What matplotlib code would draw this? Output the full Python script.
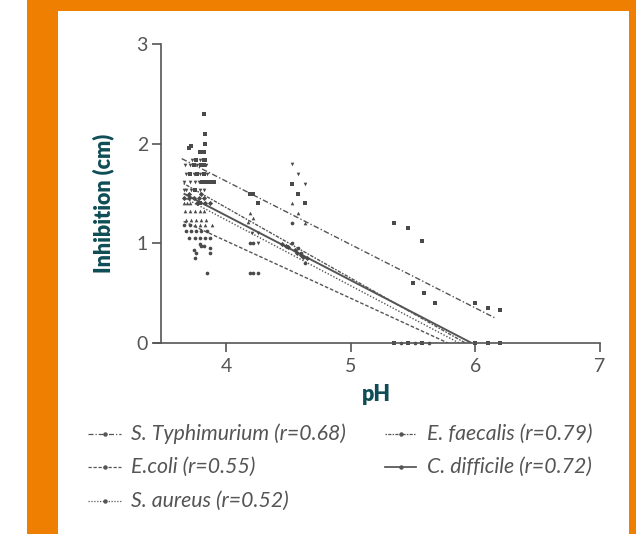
import matplotlib
matplotlib.use('Agg')
import matplotlib.pyplot as plt
from matplotlib.patches import Rectangle
from matplotlib.lines import Line2D

# ---------------- data ----------------
series_names = ["S. Typhimurium (r=0.68)", "E.coli (r=0.55)", "S. aureus (r=0.52)",
                "E. faecalis (r=0.79)", "C. difficile (r=0.72)"]

typh_x = [3.82, 3.83, 3.83, 3.72, 3.70, 3.79, 3.80, 3.82, 3.76, 3.82, 3.83, 3.74, 3.80, 3.82,
          3.71, 3.77, 3.82, 3.81, 3.84, 3.87, 3.90, 3.75, 3.79,
          4.19, 4.22, 4.26, 4.53, 4.58, 4.63, 5.35, 5.46, 5.57, 5.50, 5.59, 5.68, 6.00, 6.10, 6.20,
          5.35, 5.46, 5.57, 6.00, 6.10, 6.20]
typh_y = [2.30, 2.10, 2.00, 1.98, 1.96, 1.92, 1.92, 1.92, 1.835, 1.835, 1.835, 1.785, 1.785, 1.785,
          1.70, 1.70, 1.70, 1.62, 1.62, 1.62, 1.62, 1.535, 1.40,
          1.50, 1.50, 1.40, 1.60, 1.50, 1.40, 1.20, 1.15, 1.02, 0.60, 0.50, 0.40, 0.40, 0.35, 0.33,
          0, 0, 0, 0, 0, 0]

ecoli_x = [3.68, 3.72, 3.76, 3.80, 3.85, 3.70, 3.75, 3.79, 3.83, 3.87, 3.80, 3.82, 3.79, 3.74,
           3.76, 3.87, 3.87, 3.75, 3.85, 3.66, 3.71,
           4.19, 4.22, 4.19, 4.22, 4.26, 4.53, 4.53, 4.58, 4.60, 4.63, 5.40, 5.52, 5.63]
ecoli_y = [1.12, 1.12, 1.12, 1.12, 1.12, 1.05, 1.05, 1.05, 1.05, 1.05, 0.97, 0.97, 0.99, 0.93,
           0.90, 0.95, 0.90, 0.85, 0.70, 1.18, 1.18,
           1.00, 1.00, 0.70, 0.70, 0.70, 1.20, 1.00, 0.95, 0.90, 0.80, 0, 0, 0]

saur_x = [3.66, 3.69, 3.71, 3.67, 3.71, 3.75, 3.68, 3.72, 3.76, 3.75, 3.79, 3.83, 3.89, 3.80,
          3.84, 3.79, 3.82, 4.19, 4.22, 4.18, 4.53, 4.58, 4.63]
saur_y = [1.40, 1.40, 1.40, 1.32, 1.32, 1.32, 1.23, 1.23, 1.23, 1.18, 1.18, 1.18, 1.18, 1.23,
          1.23, 1.32, 1.32, 1.30, 1.25, 1.21, 1.40, 1.30, 1.20]

efae_x = [3.67, 3.71, 3.77, 3.84, 3.73, 3.79, 3.68, 3.74, 3.79, 3.85, 3.66, 3.71, 3.75, 3.78,
          3.66, 3.68, 3.72, 3.79, 3.82, 4.21, 4.26, 4.26, 4.53, 4.58, 4.63]
efae_y = [1.785, 1.785, 1.785, 1.785, 1.835, 1.835, 1.70, 1.70, 1.70, 1.70, 1.62, 1.62, 1.62, 1.62,
          1.535, 1.535, 1.535, 1.535, 1.535, 1.10, 1.10, 1.00, 1.80, 1.70, 1.60]

cdif_x = [3.66, 3.70, 3.74, 3.78, 3.82, 3.77, 3.83, 3.87, 3.70, 3.80,
          4.45, 4.48, 4.50, 4.55, 4.57, 4.60, 4.62, 4.65]
cdif_y = [1.45, 1.45, 1.45, 1.45, 1.45, 1.40, 1.40, 1.40, 1.50, 1.50,
          0.99, 0.97, 0.96, 0.93, 0.90, 0.88, 0.86, 0.85]

# regression line end points (x0, y0, x1, y1)
typh_fit = [3.645, 1.85, 6.16, 0.25]
ecoli_fit = [3.66, 1.22, 5.78, 0.0]
saur_fit = [3.66, 1.46, 5.87, 0.0]
efae_fit = [3.66, 1.60, 5.92, 0.0]
cdif_fit = [3.66, 1.50, 5.97, 0.0]

x_ticks = [4, 5, 6, 7]
y_ticks = [0, 1, 2, 3]

# ---------------- styles ----------------
W, H = 636, 534
ORANGE = '#EF7F00'
TEAL = '#0E4D55'
GREY = '#555555'
PT = '#4a4a4a'

styles = [
    dict(ls=(0, (4, 1.6, 1, 1.6)), lw=1.0, marker='s'),
    dict(ls=(0, (2.6, 1.4)), lw=1.0, marker='o'),
    dict(ls=(0, (1, 1.3)), lw=1.0, marker='^'),
    dict(ls=(0, (1.2, 1.0, 2.5, 1.0)), lw=1.0, marker='v'),
    dict(ls='-', lw=1.4, marker='D'),
]

plt.rcParams['font.family'] = ['Lato', 'DejaVu Sans']

fig = plt.figure(figsize=(W / 100, H / 100), dpi=100)
fig.patch.set_facecolor('white')

def frect(x0, y0, x1, y1, color):
    fig.patches.append(Rectangle((x0 / W, 1 - y1 / H), (x1 - x0) / W, (y1 - y0) / H,
                                 transform=fig.transFigure, facecolor=color,
                                 edgecolor='none', zorder=0))

frect(27, 0, 58, H, ORANGE)
frect(27, 0, W, 11, ORANGE)
frect(629, 0, W, H, ORANGE)

# axes
xmin, xmax = 3.42, 7.0
px_per_x = 124.7
left_px = 226 - (4 - xmin) * px_per_x
ax = fig.add_axes([left_px / W, (H - 343) / H, (600 - left_px) / W, (343 - 44) / H])
ax.set_xlim(xmin, xmax)
ax.set_ylim(0, 3)
ax.patch.set_alpha(0)

xs = [typh_x, ecoli_x, saur_x, efae_x, cdif_x]
ys = [typh_y, ecoli_y, saur_y, efae_y, cdif_y]
fits = [typh_fit, ecoli_fit, saur_fit, efae_fit, cdif_fit]

for x, y, f, st in zip(xs, ys, fits, styles):
    ax.scatter(x, y, s=7, marker=st['marker'], color=PT, linewidths=0, clip_on=False, zorder=2.2)
    ax.plot([f[0], f[2]], [f[1], f[3]], color=GREY, linestyle=st['ls'], lw=st['lw'],
            solid_capstyle='butt', zorder=2)

for s in ['top', 'right']:
    ax.spines[s].set_visible(False)
ax.spines['left'].set_position(('data', 3.48))
for s in ['left', 'bottom']:
    ax.spines[s].set_color(GREY)
    ax.spines[s].set_linewidth(1.2)
    ax.spines[s].set_zorder(2.5)

ax.set_xticks(x_ticks)
ax.set_yticks(y_ticks)
ax.tick_params(axis='both', colors=GREY, labelcolor=GREY, length=6.5, width=1.2, labelsize=14)
ax.tick_params(axis='x', pad=4)
ax.tick_params(axis='y', pad=3)

ax.set_xlabel('pH', fontsize=15.5, fontweight='heavy', color=TEAL, labelpad=7)
fig.text(103 / W, 1 - 203 / H, 'Inhibition (cm)', rotation=90, fontsize=15.5,
         fontweight='heavy', color=TEAL, ha='center', va='center')

# legend (manual)
legend_pos = [(88, 121, 131, 434), (88, 121, 131, 467), (88, 121, 131, 501),
              (385, 416, 427, 434), (385, 416, 427, 467)]
for name, st, (lx0, lx1, tx, ty) in zip(series_names, styles, legend_pos):
    yy = 1 - ty / H
    fig.add_artist(Line2D([lx0 / W, lx1 / W], [yy, yy], transform=fig.transFigure,
                          color=GREY, linestyle=st['ls'], lw=st['lw'] * 0.9))
    fig.add_artist(Line2D([(lx0 + lx1) / 2 / W], [yy], transform=fig.transFigure,
                          color=GREY, marker='o', markersize=2.2, lw=0))
    fig.text(tx / W, yy, name, fontsize=15.3, style='italic', color=GREY,
             ha='left', va='center')

fig.savefig('out.png', dpi=100, facecolor='white')
